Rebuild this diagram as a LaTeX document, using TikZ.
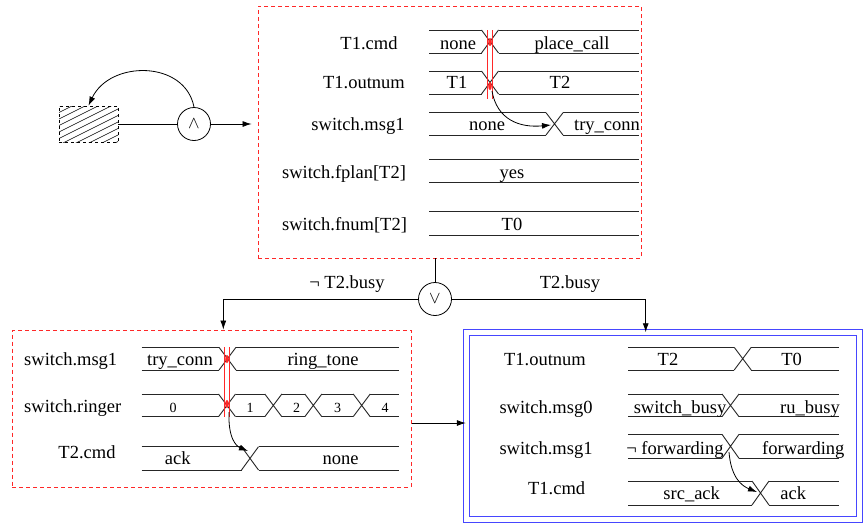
\documentclass[tikz,border=0pt]{standalone}
\usepackage{fontspec}
\setmainfont{Liberation Serif}
\usetikzlibrary{arrows.meta,calc}
\definecolor{dred}{RGB}{255,40,40}
\definecolor{dblue}{RGB}{70,70,255}
\newcommand\fs{\fontsize{18.5}{20}\selectfont}
\newcommand\fsm{\fontsize{14}{16}\selectfont}
% #1 y top, #2 y bottom, #3 x left, #4 x right, #5 crossing centres
\newcommand\wave[5]{%
  \draw[wv] (#3,#1) -- (#4,#1) (#3,#2) -- (#4,#2);
  \foreach \c in {#5} {
    \fill[white] (\c-8.5,#1-1.5) rectangle (\c+8.5,#2+1.5);
    \draw[wv] (\c-8.5,#1) -- (\c+8.5,#2) (\c-8.5,#2) -- (\c+8.5,#1);
  }%
}
\begin{document}
\begin{tikzpicture}[x=1pt,y=-1pt,
  wv/.style={black!85,line width=0.9pt},
  lbl/.style={anchor=base,inner sep=0pt,font=\fs},
  small/.style={anchor=base,inner sep=0pt,font=\fsm},
  redbox/.style={draw=dred,line width=0.9pt,dash pattern=on 4pt off 3pt,inner sep=0pt},
  bluebox/.style={draw=dblue,line width=1pt,double=white,double distance=5pt,inner sep=0pt},
  gate/.style={circle,draw,line width=0.8pt,minimum size=33pt,inner sep=0pt,font=\fs},
  conn/.style={line width=0.8pt},
  arr/.style={line width=0.8pt,-{Latex[length=9pt,width=6pt]}},
  redl/.style={dred,line width=0.8pt}]
\useasboundingbox (0,0) rectangle (864,523);

% ---------- boxes ----------
\node[redbox,minimum width=383pt,minimum height=252pt] (top) at (449.5,132) {};
\node[redbox,minimum width=398.7pt,minimum height=157pt] (lb) at (211.7,408.5) {};
\node[bluebox,minimum width=393.2pt,minimum height=186.5pt] (rb) at (662.9,426) {};

% ---------- hatched state ----------
\node[draw,dashed,line width=0.8pt,minimum width=59pt,minimum height=36pt,inner sep=0pt] (hs) at (88.5,124) {};
\begin{scope}
  \clip (59,106) rectangle (118,142);
  \foreach \i in {0,6.5,...,72} \draw[line width=0.6pt] (59,106+\i) -- (118,106+\i-29.5);
\end{scope}
\node[gate] (and) at (194,124) {$\wedge$};
\draw[conn] (hs.east) -- (and.west);
\draw[arr,shorten >=6pt] (and.east) -- (top.west |- and.east);
\draw[arr] (and.north) .. controls (185,60) and (110,60) .. (hs.north);

% ---------- top box ----------
\node[lbl] (t1) at (369,49) {T1.cmd};
\node[lbl] (t2) at (364,88.5) {T1.outnum};
\node[lbl] (t3) at (358,130.5) {switch.msg1};
\node[lbl] (t4) at (344,178) {switch.fplan[T2]};
\node[lbl] (t5) at (344.5,230.5) {switch.fnum[T2]};
\wave{30}{53}{429}{639}{490}
\wave{71}{94}{429}{639}{490}
\wave{112.7}{135}{429}{639}{554.5}
\draw[wv] (429,159.3) -- (639,159.3) (429,182.3) -- (639,182.3);
\draw[wv] (429,211.7) -- (639,211.7) (429,235.3) -- (639,235.3);
\node[lbl] (v1a) at (458,49) {none};
\node[lbl] (v1b) at (572,49) {place\_call};
\node[lbl] (v2a) at (457,88.5) {T1};
\node[lbl] (v2b) at (560,88.5) {T2};
\node[lbl] (v3a) at (487,130.5) {none};
\node[lbl] (v3b) at (607,130.5) {try\_conn};
\node[lbl] (v4) at (512,178) {yes};
\node[lbl] (v5) at (512,230.5) {T0};
\draw[redl] (487.3,30) -- (487.3,99) (492.3,30) -- (492.3,99);
\fill[dred] (490,42) ellipse (1.8pt and 4pt);
\fill[dred] (490,86) ellipse (1.8pt and 4pt);
\draw[arr] (492,91) .. controls (497,120) and (520,128) .. (551,125);

% ---------- or gate ----------
\node[gate] (or) at (435,299) {$\vee$};
\draw[conn] (top.south -| or.north) -- (or.north);
\draw[arr] (or.west) -| (lb.north -| 223.3,0);
\draw[arr] (or.east) -| (rb.north -| 645.7,0);
\node[lbl] (nb) at (347,288) {¬ T2.busy};
\node[lbl] (yb) at (570,288) {T2.busy};
\coordinate (mid) at (0,423);
\draw[arr] (lb.east |- mid) -- (rb.west |- mid);

% ---------- bottom-left box ----------
\node[lbl,anchor=base west] (l1) at (24,365.5) {switch.msg1};
\node[lbl,anchor=base west] (l2) at (24,412.5) {switch.ringer};
\node[lbl] (l3) at (87,458) {T2.cmd};
\wave{347.3}{370}{141.7}{399}{227.5}
\wave{394}{416.7}{141.7}{399}{227,273.3,313.3,361.7}
\wave{446.7}{470}{141.7}{399}{250}
\node[lbl] (w1a) at (180,365.5) {try\_conn};
\node[lbl] (w1b) at (323,365.5) {ring\_tone};
\node[small] (w20) at (173,412) {0};
\node[small] (w21) at (250,412) {1};
\node[small] (w22) at (296.7,412) {2};
\node[small] (w23) at (337.7,412) {3};
\node[small] (w24) at (385,412) {4};
\node[lbl] (w3a) at (177.7,464.5) {ack};
\node[lbl] (w3b) at (340.7,464.5) {none};
\draw[redl] (224,347.3) -- (224,417) (229.5,347.3) -- (229.5,417);
\fill[dred] (227,359) ellipse (1.8pt and 4pt);
\fill[dred] (227,404) ellipse (1.8pt and 4pt);
\draw[arr] (229,412) .. controls (228,438) and (236,446) .. (248,451);

% ---------- bottom-right box ----------
\node[lbl] (r1) at (545,365.5) {T1.outnum};
\node[lbl] (r2) at (546,413) {switch.msg0};
\node[lbl] (r3) at (546,454.5) {switch.msg1};
\node[lbl] (r4) at (556.7,494.5) {T1.cmd};
\wave{347.3}{370}{628.3}{839}{742.7}
\wave{394}{416.7}{628.3}{839}{730.5}
\wave{434.3}{458.3}{628.3}{839}{730.5}
\wave{481}{505}{628.3}{839}{760.5}
\node[lbl] (s1a) at (668,365.5) {T2};
\node[lbl] (s1b) at (791.7,365.5) {T0};
\node[lbl] (s2a) at (680,413) {switch\_busy};
\node[lbl] (s2b) at (810,413) {ru\_busy};
\node[lbl] (s3a) at (675,454.5) {¬ forwarding};
\node[lbl] (s3b) at (803.3,454.5) {forwarding};
\node[lbl] (s4a) at (691.7,499.5) {src\_ack};
\node[lbl] (s4b) at (793.3,499.5) {ack};
\draw[arr] (729,452) .. controls (731,478) and (742,486) .. (757,492);
\end{tikzpicture}
\end{document}
